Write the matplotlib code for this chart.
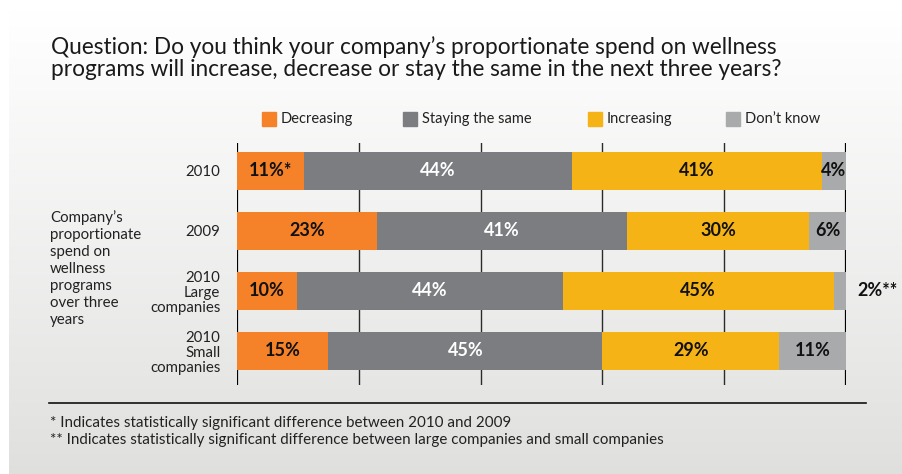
import numpy as np
import matplotlib
matplotlib.use("Agg")
import matplotlib.pyplot as plt
from matplotlib.patches import Rectangle

plt.rcParams["font.family"] = ["Lato", "DejaVu Sans"]

# ── Survey data ───────────────────────────────────────────────
rows = ["2010", "2009", "2010\nLarge\ncompanies", "2010\nSmall\ncompanies"]
series = ["Decreasing", "Staying the same", "Increasing", "Don\u2019t know"]
decreasing = [11, 23, 10, 15]
same = [44, 41, 44, 45]
increasing = [41, 30, 45, 29]
dont_know = [4, 6, 2, 11]
# footnote markers attached to specific cells (row, series index)
markers = {(0, 0): "*", (2, 3): "**"}

COLORS = ["#f58129", "#7b7d81", "#f5b316", "#a9aaac"]
TEXT_COLORS = ["#111111", "white", "#111111", "#111111"]

W, H = 902, 474
fig = plt.figure(figsize=(W / 100, H / 100), dpi=100)
fig.patch.set_facecolor("white")


def fx(px):
    return px / W


def fy(py):
    return 1 - py / H


# ── Gradient panel behind everything ─────────────────────────
bg = fig.add_axes([fx(9), 0, 1 - fx(9), fy(10)])
grad = np.linspace(1.0, 0.0, 256).reshape(-1, 1, 1)
top, bottom = np.array([1.0, 1.0, 1.0]), np.array([0.875, 0.875, 0.87])
img = bottom + (top - bottom) * grad ** 0.9
bg.imshow(img, aspect="auto", extent=[0, 1, 0, 1])
bg.set_axis_off()

# ── Title ────────────────────────────────────────────────────
fig.text(fx(51), fy(36),
         "Question: Do you think your company\u2019s proportionate spend on wellness\n"
         "programs will increase, decrease or stay the same in the next three years?",
         ha="left", va="top", fontsize=16.3, color="#1a1a1a", linespacing=1.08)

# ── Legend (manual) ──────────────────────────────────────────
leg_sq = [262, 403, 588, 726]
for x0, name, col in zip(leg_sq, series, COLORS):
    fig.patches.append(Rectangle((fx(x0), fy(126)), fx(14), 14 / H,
                                 transform=fig.transFigure, color=col))
    fig.text(fx(x0 + 19), fy(119), name, ha="left", va="center",
             fontsize=10.5, color="#222222")

# ── Stacked bars ─────────────────────────────────────────────
ax = fig.add_axes([fx(237), fy(385), fx(846 - 237), (385 - 143) / H])
ax.patch.set_alpha(0)
data = np.array([decreasing, same, increasing, dont_know], dtype=float)
totals = data.sum(axis=0)
shares = data / totals * 100
y = np.arange(len(rows))
bar_h = 38 / 60

for xv in [20, 40, 60, 80]:
    ax.axvline(xv, color="#2b2b2b", lw=1.0, zorder=0)
for xv in [0, 100]:
    ax.axvline(xv, color="black", lw=1.6, zorder=0)

lbl = dict(fontsize=13, fontweight="bold", va="center", zorder=3)
left = np.zeros(len(rows))
for i in range(len(series)):
    ax.barh(y, shares[i], left=left, height=bar_h, color=COLORS[i],
            edgecolor="none", zorder=2)
    for j in range(len(rows)):
        label = f"{int(data[i, j])}%" + markers.get((j, i), "")
        cx = left[j] + shares[i, j] / 2
        if shares[i, j] < 3:
            # too thin to hold its label: put it beyond the bar end
            ax.text(101.8, y[j], label, ha="left", color="#111111",
                    clip_on=False, **lbl)
        elif i == 3 and shares[i, j] < 5:
            ax.text(left[j] + shares[i, j], y[j], label, ha="right",
                    color=TEXT_COLORS[i], **lbl)
        else:
            ax.text(cx, y[j], label, ha="center", color=TEXT_COLORS[i], **lbl)
    left += shares[i]

ax.set_xlim(0, 100)
ax.set_ylim(3 + (385 - 351) / 60, -(171 - 143) / 60)
ax.set_yticks(y)
ax.set_yticklabels(rows, fontsize=10.8, color="#222222", linespacing=1.1)
ax.tick_params(axis="y", length=0, pad=12)
ax.set_xticks([])
for s in ax.spines.values():
    s.set_visible(False)

# ── Side description ─────────────────────────────────────────
fig.text(fx(50), fy(210),
         "Company\u2019s\nproportionate\nspend on\nwellness\nprograms\nover three\nyears",
         ha="left", va="top", fontsize=10.8, color="#222222", linespacing=1.27)

# ── Footnotes ────────────────────────────────────────────────
fig.add_artist(plt.Line2D([fx(49), fx(866)], [fy(403), fy(403)],
                          transform=fig.transFigure, color="#111111", lw=1.2))
fig.text(fx(50), fy(423),
         "* Indicates statistically significant difference between 2010 and 2009",
         ha="left", va="center", fontsize=10.9, color="#222222")
fig.text(fx(50), fy(440),
         "** Indicates statistically significant difference between large companies and small companies",
         ha="left", va="center", fontsize=10.9, color="#222222")

fig.savefig("out.png", dpi=100)
